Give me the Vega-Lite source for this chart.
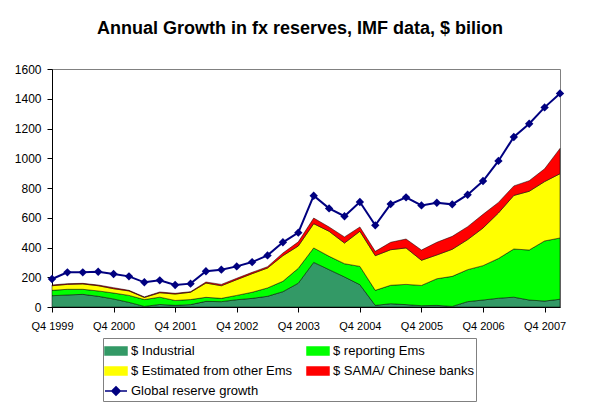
{
  "$schema": "https://vega.github.io/schema/vega-lite/v6.json",
  "autosize": "none",
  "width": 508,
  "height": 238,
  "padding": {"left": 52, "top": 69, "right": 33, "bottom": 98},
  "background": "white",
  "title": {
    "text": "Annual Growth in fx reserves, IMF data, $ bilion",
    "font": "Liberation Sans",
    "fontSize": 18,
    "fontWeight": "bold",
    "color": "black",
    "anchor": "middle",
    "offset": 25,
    "dx": -6
  },
  "datasets": {
    "series": [
      {"key": "ind", "label": "$ Industrial", "rank": 1},
      {"key": "rep", "label": "$ reporting Ems", "rank": 2},
      {"key": "est", "label": "$ Estimated from other Ems", "rank": 3},
      {"key": "sama", "label": "$ SAMA/ Chinese banks", "rank": 4}
    ]
  },
  "data": {
    "values": [
      {"q": "Q4 1999", "ind": 76, "rep": 36, "est": 31, "sama": 5, "global": 188},
      {"q": "Q1 2000", "ind": 81, "rep": 38, "est": 33, "sama": 5, "global": 233},
      {"q": "Q2 2000", "ind": 85, "rep": 34, "est": 36, "sama": 4, "global": 233},
      {"q": "Q3 2000", "ind": 72, "rep": 36, "est": 35, "sama": 5, "global": 237},
      {"q": "Q4 2000", "ind": 54, "rep": 40, "est": 29, "sama": 7, "global": 222},
      {"q": "Q1 2001", "ind": 31, "rep": 47, "est": 30, "sama": 4, "global": 206},
      {"q": "Q2 2001", "ind": 4, "rep": 46, "est": 14, "sama": 4, "global": 166},
      {"q": "Q3 2001", "ind": 17, "rep": 49, "est": 30, "sama": 5, "global": 179},
      {"q": "Q4 2001", "ind": 11, "rep": 33, "est": 43, "sama": 5, "global": 148},
      {"q": "Q1 2002", "ind": 16, "rep": 34, "est": 49, "sama": 4, "global": 157},
      {"q": "Q2 2002", "ind": 38, "rep": 27, "est": 96, "sama": 7, "global": 240},
      {"q": "Q3 2002", "ind": 36, "rep": 22, "est": 85, "sama": 9, "global": 251},
      {"q": "Q4 2002", "ind": 49, "rep": 29, "est": 106, "sama": 9, "global": 273},
      {"q": "Q1 2003", "ind": 58, "rep": 41, "est": 125, "sama": 9, "global": 302},
      {"q": "Q2 2003", "ind": 72, "rep": 56, "est": 134, "sama": 9, "global": 347},
      {"q": "Q3 2003", "ind": 103, "rep": 70, "est": 172, "sama": 18, "global": 435},
      {"q": "Q4 2003", "ind": 160, "rep": 100, "est": 150, "sama": 28, "global": 500},
      {"q": "Q1 2004", "ind": 300, "rep": 97, "est": 163, "sama": 38, "global": 748},
      {"q": "Q2 2004", "ind": 251, "rep": 90, "est": 168, "sama": 29, "global": 663},
      {"q": "Q3 2004", "ind": 202, "rep": 89, "est": 139, "sama": 41, "global": 610},
      {"q": "Q4 2004", "ind": 150, "rep": 123, "est": 236, "sama": 29, "global": 706},
      {"q": "Q1 2005", "ind": 11, "rep": 101, "est": 233, "sama": 29, "global": 549},
      {"q": "Q2 2005", "ind": 22, "rep": 124, "est": 239, "sama": 50, "global": 692},
      {"q": "Q3 2005", "ind": 16, "rep": 136, "est": 245, "sama": 60, "global": 737},
      {"q": "Q4 2005", "ind": 9, "rep": 136, "est": 169, "sama": 69, "global": 683},
      {"q": "Q1 2006", "ind": 11, "rep": 179, "est": 160, "sama": 85, "global": 701},
      {"q": "Q2 2006", "ind": 4, "rep": 202, "est": 182, "sama": 87, "global": 690},
      {"q": "Q3 2006", "ind": 36, "rep": 215, "est": 202, "sama": 87, "global": 755},
      {"q": "Q4 2006", "ind": 47, "rep": 231, "est": 253, "sama": 92, "global": 847},
      {"q": "Q1 2007", "ind": 59, "rep": 267, "est": 306, "sama": 71, "global": 982},
      {"q": "Q2 2007", "ind": 66, "rep": 324, "est": 360, "sama": 64, "global": 1143},
      {"q": "Q3 2007", "ind": 47, "rep": 336, "est": 395, "sama": 71, "global": 1232},
      {"q": "Q4 2007", "ind": 40, "rep": 404, "est": 399, "sama": 86, "global": 1342},
      {"q": "Q1 2008", "ind": 52, "rep": 412, "est": 432, "sama": 170, "global": 1436}
    ]
  },
  "encoding": {
    "x": {
      "field": "q",
      "type": "ordinal",
      "sort": null,
      "scale": {
        "padding": 0,
        "domain": ["Q4 1999","Q1 2000","Q2 2000","Q3 2000","Q4 2000","Q1 2001","Q2 2001","Q3 2001","Q4 2001","Q1 2002","Q2 2002","Q3 2002","Q4 2002","Q1 2003","Q2 2003","Q3 2003","Q4 2003","Q1 2004","Q2 2004","Q3 2004","Q4 2004","Q1 2005","Q2 2005","Q3 2005","Q4 2005","Q1 2006","Q2 2006","Q3 2006","Q4 2006","Q1 2007","Q2 2007","Q3 2007","Q4 2007","Q1 2008"]
      },
      "axis": {
        "title": null,
        "values": ["Q4 1999","Q4 2000","Q4 2001","Q4 2002","Q4 2003","Q4 2004","Q4 2005","Q4 2006","Q4 2007"],
        "labelAngle": 0,
        "labelFontSize": 11,
        "labelOverlap": false,
        "tickSize": 5,
        "labelPadding": 8
      }
    }
  },
  "layer": [
    {
      "transform": [
        {"fold": ["ind", "rep", "est", "sama"], "as": ["key", "value"]},
        {"lookup": "key", "from": {"data": {"name": "series"}, "key": "key", "fields": ["label", "rank"]}}
      ],
      "mark": {"type": "area", "stroke": "#000000", "strokeWidth": 0.5, "opacity": 1},
      "encoding": {
        "y": {
          "field": "value",
          "type": "quantitative",
          "stack": "zero",
          "scale": {"domain": [0, 1600], "nice": false},
          "axis": {
            "title": null,
            "values": [0, 200, 400, 600, 800, 1000, 1200, 1400, 1600],
            "format": "d",
            "labelOverlap": false,
            "labelFontSize": 12,
            "tickSize": 5,
            "labelPadding": 6
          }
        },
        "order": {"field": "rank", "type": "quantitative", "sort": "ascending"},
        "color": {
          "field": "label",
          "type": "nominal",
          "scale": {
            "domain": ["$ Industrial", "$ reporting Ems", "$ Estimated from other Ems", "$ SAMA/ Chinese banks", "Global reserve growth"],
            "range": ["#339966", "#00FF00", "#FFFF00", "#FF0000", "#000080"]
          },
          "legend": {
            "title": null, "orient": "none", "direction": "horizontal",
            "legendX": 51, "legendY": 269, "columns": 2, "columnPadding": 11,
            "rowPadding": 2, "padding": 2, "strokeColor": "#808080", "fillColor": "white",
            "labelFont": "Liberation Sans", "labelFontSize": 13, "labelColor": "black",
            "labelLimit": 300, "labelOffset": 4, "symbolSize": 400,
            "symbolStrokeWidth": 1.5, "symbolOpacity": 1
          }
        }
      }
    },
    {
      "transform": [
        {"fold": ["ind", "rep", "est", "sama"], "as": ["key", "value"]},
        {"lookup": "key", "from": {"data": {"name": "series"}, "key": "key", "fields": ["label", "rank"]}},
        {"filter": "datum.rank > 99"}
      ],
      "mark": {"type": "point", "filled": false, "opacity": 1},
      "encoding": {
        "y": {
          "field": "value",
          "type": "quantitative",
          "axis": {
            "title": null,
            "values": [0, 200, 400, 600, 800, 1000, 1200, 1400, 1600],
            "format": "d",
            "labelOverlap": false,
            "labelFontSize": 12,
            "tickSize": 5,
            "labelPadding": 6
          }
        },
        "color": {
          "field": "label",
          "type": "nominal",
          "legend": {
            "title": null, "orient": "none", "direction": "horizontal",
            "legendX": 51, "legendY": 269, "columns": 2, "columnPadding": 11,
            "rowPadding": 2, "padding": 2, "strokeColor": "#808080", "fillColor": "white",
            "labelFont": "Liberation Sans", "labelFontSize": 13, "labelColor": "black",
            "labelLimit": 300, "labelOffset": 4, "symbolSize": 400,
            "symbolStrokeWidth": 1.5, "symbolOpacity": 1
          }
        },
        "shape": {
          "field": "label",
          "type": "nominal",
          "scale": {
            "domain": ["$ Industrial", "$ reporting Ems", "$ Estimated from other Ems", "$ SAMA/ Chinese banks", "Global reserve growth"],
            "range": ["M-1.1,-0.4H1.1V0.4H-1.1Z", "M-1.1,-0.4H1.1V0.4H-1.1Z", "M-1.1,-0.4H1.1V0.4H-1.1Z", "M-1.1,-0.4H1.1V0.4H-1.1Z", "M-1.1,0H1.1M0,-0.42L0.42,0L0,0.42L-0.42,0Z"]
          },
          "legend": {
            "title": null, "orient": "none", "direction": "horizontal",
            "legendX": 51, "legendY": 269, "columns": 2, "columnPadding": 11,
            "rowPadding": 2, "padding": 2, "strokeColor": "#808080", "fillColor": "white",
            "labelFont": "Liberation Sans", "labelFontSize": 13, "labelColor": "black",
            "labelLimit": 300, "labelOffset": 4, "symbolSize": 400,
            "symbolStrokeWidth": 1.5, "symbolOpacity": 1
          }
        }
      }
    },
    {
      "mark": {
        "type": "line",
        "color": "#000080",
        "strokeWidth": 2,
        "point": {"shape": "diamond", "size": 70, "filled": true, "color": "#000080"}
      },
      "encoding": {
        "y": {
          "field": "global",
          "type": "quantitative",
          "axis": {
            "title": null,
            "values": [0, 200, 400, 600, 800, 1000, 1200, 1400, 1600],
            "format": "d",
            "labelOverlap": false,
            "labelFontSize": 12,
            "tickSize": 5,
            "labelPadding": 6
          }
        }
      }
    }
  ],
  "config": {
    "view": {"stroke": "#808080", "strokeWidth": 1},
    "axis": {
      "grid": false,
      "domainColor": "#000000",
      "tickColor": "#000000",
      "labelColor": "#000000",
      "labelFont": "Liberation Sans"
    },
    "axisY": {"labelOverlap": false}
  }
}
